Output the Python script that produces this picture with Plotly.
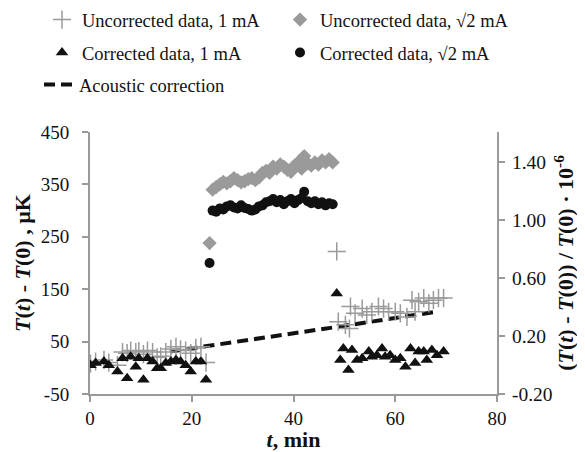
import plotly.graph_objects as go

# ---- data ----
unc1_t = [0.1, 1.1, 2.75, 3.7, 5.4, 6.4, 7.3, 8.0, 9.0, 9.6, 10.5, 11.3, 12.3, 13.2, 13.9, 14.9,
          15.9, 16.9, 17.8, 18.8, 19.8, 20.8, 21.8, 22.8,
          48.5, 48.8, 50.2, 51.0, 51.2, 52.1, 53.5, 54.4, 55.4, 56.7, 57.7, 58.7, 60.0, 61.0, 62.3,
          63.3, 63.9, 64.6, 65.6, 66.6, 67.5, 68.5, 69.5]
unc1_v = [8, 12, 15, 10, 5, 30, 28, 33, 30, 32, 26, 33, 30, 20, 22, 30,
          36, 40, 35, 33, 28, 38, 40, 10,
          222, 88, 82, 75, 117, 104, 113, 101, 107, 117, 113, 107, 107, 104, 97,
          129, 107, 126, 133, 123, 129, 133, 133]

cor1_t = [0.1, 1.1, 2.75, 3.7, 5.4, 6.4, 7.3, 8.0, 9.0, 9.6, 10.5, 11.3, 12.3, 13.2, 13.9, 14.9,
          15.9, 16.9, 17.8, 18.8, 19.8, 20.8, 21.8, 22.8,
          48.5, 49.2, 49.8, 50.8, 51.5, 52.5, 53.5, 54.8, 55.4, 56.4, 57.4, 58.0, 59.0, 60.0, 61.0,
          62.0, 63.0, 63.9, 64.6, 65.6, 66.2, 67.2, 68.2, 69.5]
cor1_v = [5, 9, 12, 5, -7, 18, -20, 21, 2, 18, -23, 18, 12, -1, -1, 9,
          12, 15, 12, 5, -7, 12, 12, -23,
          142, 15, 37, -4, 34, 15, 18, 31, 21, 24, 37, 21, 24, 15, 18,
          2, 37, 9, 31, 31, 15, 34, 24, 31]

s2_t = [23.5, 24.1, 24.8, 25.5, 26.2, 26.9, 27.6, 28.3, 29.0, 29.7, 30.4, 31.1, 31.8, 32.5, 33.2,
        33.9, 34.6, 35.3, 36.0, 36.7, 37.4, 38.1, 38.8, 39.5, 40.2, 40.9, 41.6, 42.1, 42.8, 43.5,
        44.2, 44.9, 45.6, 46.3, 47.0, 47.7]
unc2_v = [238, 340, 345, 350, 355, 352, 356, 362, 358, 354, 356, 360, 362, 358, 363,
          372, 376, 372, 384, 380, 388, 384, 378, 374, 386, 392, 380, 404, 390, 386,
          392, 388, 396, 392, 398, 392]
cor2_v = [200, 300, 298, 304, 302, 308, 310, 306, 304, 310, 305, 303, 300, 302, 308,
          310, 316, 318, 322, 316, 320, 312, 318, 322, 314, 320, 324, 336, 318, 314,
          318, 312, 316, 310, 314, 312]

ac_t = [15.7, 28.0, 48.5, 68.1]
ac_v = [31, 48, 78, 107]

x_ticks = [0, 20, 40, 60, 80]
y_ticks = [-50, 50, 150, 250, 350, 450]
y_ticktext = ["-50", "50", "150", "250", "350", "450"]
y2_ticks = [-0.2, 0.2, 0.6, 1.0, 1.4]
y2_ticktext = ["-0.20", "0.20", "0.60", "1.00", "1.40"]

FONT = "Liberation Serif, Times New Roman, serif"
AX = "#9a9a9a"
DARK = "#111111"
GRAY = "#9a9a9a"

fig = go.Figure()

# draw order: acoustic, crosses, triangles, diamonds, circles
fig.add_trace(go.Scatter(x=ac_t, y=ac_v, mode="lines", name="Acoustic correction",
                         line=dict(color=DARK, width=4, dash="11px,6px"),
                         legend="legend5", hoverinfo="skip"))
fig.add_trace(go.Scatter(x=unc1_t, y=unc1_v, mode="markers", name="Uncorrected data, 1 mA",
                         marker=dict(symbol="cross-thin-open", size=13, color=GRAY,
                                     line=dict(color=GRAY, width=1.5)),
                         legend="legend"))
fig.add_trace(go.Scatter(x=cor1_t, y=cor1_v, mode="markers", name="Corrected data, 1 mA",
                         marker=dict(symbol="triangle-up", size=11, color=DARK),
                         legend="legend3"))
fig.add_trace(go.Scatter(x=s2_t, y=unc2_v, mode="markers", name="Uncorrected data, \u221a2 mA",
                         marker=dict(symbol="diamond", size=11, color=GRAY),
                         legend="legend2"))
fig.add_trace(go.Scatter(x=s2_t, y=cor2_v, mode="markers", name="Corrected data, \u221a2 mA",
                         marker=dict(symbol="circle", size=10, color=DARK),
                         legend="legend4"))
# invisible trace to activate the secondary axis
fig.add_trace(go.Scatter(x=[None], y=[None], yaxis="y2", showlegend=False, hoverinfo="skip"))

axis_common = dict(showline=True, linecolor=AX, linewidth=2, ticks="outside",
                   tickcolor=AX, tickwidth=2, ticklen=6, showgrid=False, zeroline=False,
                   automargin=False)

# the page body adds an 8px offset; figure is sized so the visible area is 585x452
W = 577.0
H = 444.0
OFF = 8


def leg(xpx, ypx):
    return dict(orientation="h", font=dict(family=FONT, size=18.5, color=DARK),
                bgcolor="rgba(0,0,0,0)", xanchor="left", yanchor="middle",
                xref="container", yref="container",
                x=(xpx - OFF) / W, y=1 - (ypx - OFF) / H)


fig.update_layout(
    width=int(W), height=int(H),
    margin=dict(l=82, r=88, t=124, b=58, autoexpand=False),
    paper_bgcolor="white", plot_bgcolor="white",
    font=dict(family=FONT, color=DARK),
    xaxis=dict(range=[0, 80], tickvals=x_ticks, **axis_common,
               tickfont=dict(family=FONT, size=19, color=DARK),
               title=dict(text="<b><i>t</i>, min</b>", font=dict(family=FONT, size=22, color=DARK),
                          standoff=2)),
    yaxis=dict(range=[-50, 450], tickvals=y_ticks, ticktext=y_ticktext, **axis_common,
               tickfont=dict(family=FONT, size=19, color=DARK), ticklabelstandoff=9,
               title=dict(text="<b><i>T</i>(<i>t</i>) - <i>T</i>(0) , \u00b5K</b>",
                          font=dict(family=FONT, size=22, color=DARK), standoff=4)),
    yaxis2=dict(range=[-0.2, 1.61], tickvals=y2_ticks, ticktext=y2_ticktext, overlaying="y",
                side="right", **axis_common,
                tickfont=dict(family=FONT, size=19.5, color=DARK), ticklabelstandoff=3,
                title=dict(text="<b>(<i>T</i>(<i>t</i>) - <i>T</i>(0)) / <i>T</i>(0) \u00b7 10<sup>-6</sup></b>",
                           font=dict(family=FONT, size=22, color=DARK), standoff=6)),
    legend=leg(42, 20),
    legend2=leg(280, 20),
    legend3=leg(42, 53),
    legend4=leg(280, 53),
    legend5=leg(39, 85),
    showlegend=True,
)

fig.write_html("out.html")
